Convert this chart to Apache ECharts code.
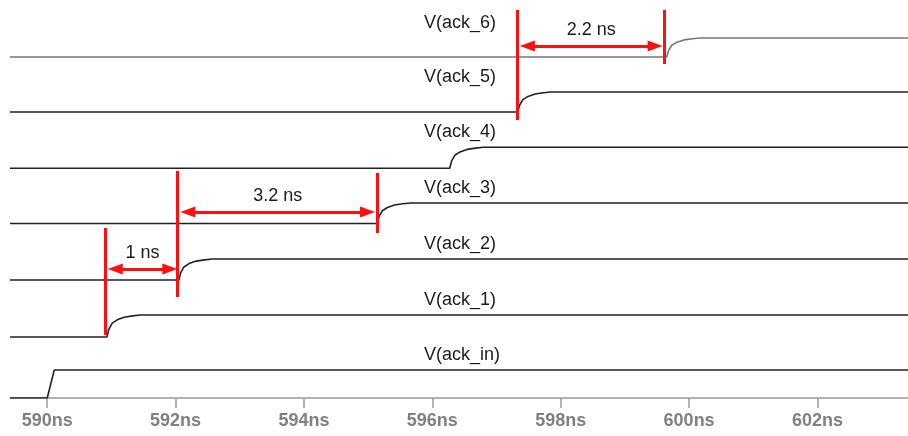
<!DOCTYPE html>
<html>
<head>
<meta charset="utf-8">
<script src="https://cdn.jsdelivr.net/npm/echarts@6/dist/echarts.min.js"></script>
<style>
  html, body { margin: 0; padding: 0; background: #fff; }
  #chart { width: 908px; height: 436px; }
</style>
</head>
<body>
<div id="chart"></div>
<script>
// signals, bottom to top
const signals = ['V(ack_in)', 'V(ack_1)', 'V(ack_2)', 'V(ack_3)', 'V(ack_4)', 'V(ack_5)', 'V(ack_6)']
const edgeTimes = [590.0, 590.93, 592.05, 595.14, 596.27, 597.33, 599.65]   // ns
const lowLevels = [0, 61, 118, 174.5, 229.7, 286, 341]
const highLevels = [28, 83, 139, 195, 250.7, 306, 360]
const lineColors = ['#222', '#222', '#222', '#222', '#222', '#222', '#777']

// rising edge shapes: [ns after edge, fraction of swing]
const sharpEdge = [[0, 0], [0.11, 1]]
const rcEdge = [[0, 0], [0.03, 0.35], [0.08, 0.62], [0.16, 0.78], [0.27, 0.9], [0.4, 0.96], [0.52, 1]]

const tickValues = [590, 592, 594, 596, 598, 600, 602]
const tMin = 589.42
const tMax = 603.41

// red cursors: [time, bottom level, top level]
const cursors = [
  [590.90, 63, 170],
  [592.02, 101, 227],
  [595.14, 165, 225],
  [597.33, 278, 388],
  [599.62, 334, 388]
]
// delay arrows: [start, end, level, text] (arrow heads sit centred on the ends)
const delays = [
  [591.06, 591.91, 129, '1 ns'],
  [592.19, 594.99, 186, '3.2 ns'],
  [597.48, 599.47, 352, '2.2 ns']
]

const chart = echarts.init(document.getElementById('chart'), null, { renderer: 'canvas' })

const series = signals.map((name, i) => {
  const t0 = edgeTimes[i]
  const lo = lowLevels[i]
  const hi = highLevels[i]
  const shape = i === 0 ? sharpEdge : rcEdge
  const data = [[tMin, lo]]
  shape.forEach(([dt, f]) => data.push([t0 + dt, lo + f * (hi - lo)]))
  data.push([tMax, hi])
  return {
    name,
    type: 'line',
    data,
    symbol: 'none',
    silent: true,
    z: 3,
    lineStyle: { color: lineColors[i], width: 1.6 },
    markPoint: {
      symbol: 'circle',
      symbolSize: 0,
      silent: true,
      label: {
        show: true,
        position: 'right',
        distance: 0,
        formatter: name,
        color: '#1a1a1a',
        fontFamily: 'Liberation Sans, Arial, sans-serif',
        fontSize: 18
      },
      data: [{ coord: [595.87, hi + 15] }]
    }
  }
})

series.push({
  name: 'cursors',
  type: 'line',
  data: [],
  z: 5,
  markLine: {
    silent: true,
    symbol: ['none', 'none'],
    animation: false,
    lineStyle: { color: '#ff1010', width: 3, type: 'solid' },
    label: { show: false },
    data: cursors.map(([t, a, b]) => [{ coord: [t, a] }, { coord: [t, b] }])
  }
})

series.push({
  name: 'delays',
  type: 'line',
  data: [],
  z: 5,
  markLine: {
    silent: true,
    symbol: ['triangle', 'triangle'],
    symbolSize: [11, 15],
    animation: false,
    lineStyle: { color: '#ff1010', width: 3, type: 'solid' },
    data: delays.map(([a, b, y, text]) => [
      {
        coord: [a, y],
        label: {
          show: true,
          formatter: text,
          position: 'insideMiddleTop',
          distance: 7,
          color: '#1a1a1a',
          fontFamily: 'Liberation Sans, Arial, sans-serif',
          fontSize: 18
        }
      },
      { coord: [b, y] }
    ])
  }
})

chart.setOption({
  backgroundColor: '#fff',
  animation: false,
  grid: { left: 10, right: 0, top: 0, bottom: 38 },
  xAxis: {
    type: 'value',
    min: tMin,
    max: tMax,
    axisLine: { show: true, lineStyle: { color: '#999', width: 1.5 } },
    axisTick: { show: true, length: 10, customValues: tickValues, lineStyle: { color: '#999', width: 1.5 } },
    axisLabel: {
      customValues: tickValues,
      formatter: (v) => v + 'ns',
      color: '#808080',
      fontWeight: 'bold',
      fontFamily: 'Liberation Sans, Arial, sans-serif',
      fontSize: 18,
      margin: 14
    },
    splitLine: { show: false }
  },
  yAxis: {
    type: 'value',
    min: 0,
    max: 398,
    show: false,
    splitLine: { show: false }
  },
  series
})
</script>
</body>
</html>
